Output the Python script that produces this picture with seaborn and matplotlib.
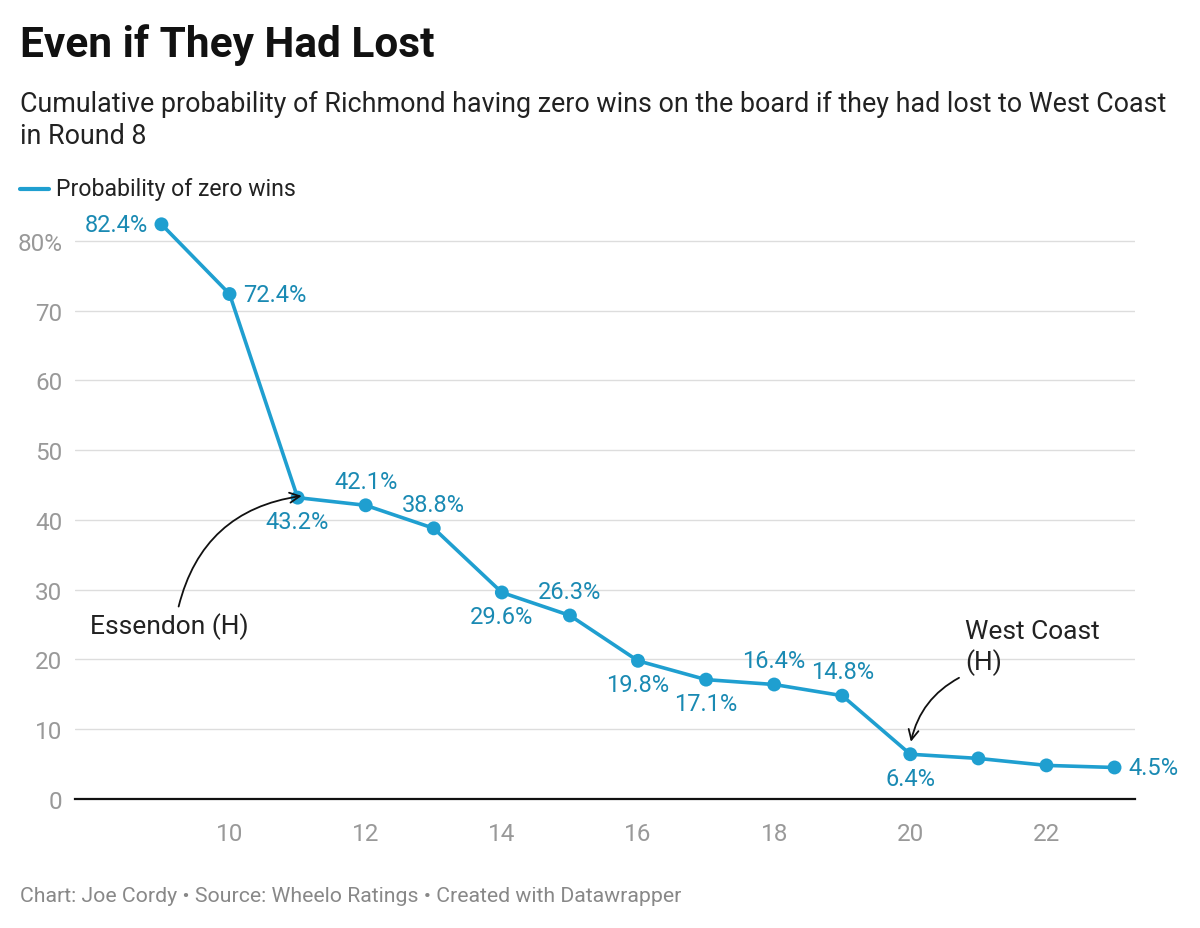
import matplotlib
matplotlib.use("Agg")
import matplotlib.pyplot as plt
import seaborn as sns
import pandas as pd

# ============================================================
# Données
# ============================================================
rounds = [9, 10, 11, 12, 13, 14, 15, 16, 17, 18, 19, 20, 21, 22, 23]
prob_zero = [82.4, 72.4, 43.2, 42.1, 38.8, 29.6, 26.3, 19.8, 17.1, 16.4, 14.8, 6.4, 5.8, 4.8, 4.5]
# position of each value label: l/r/a/b (None = no label)
label_pos = ['l', 'r', 'b', 'a', 'a', 'b', 'a', 'b', 'b', 'a', 'a', 'b', None, None, 'r']

x_ticks = [10, 12, 14, 16, 18, 20, 22]
y_ticks = [0, 10, 20, 30, 40, 50, 60, 70, 80]
y_tick_labels = ['0', '10', '20', '30', '40', '50', '60', '70', '80%']

title = "Even if They Had Lost"
subtitle = ("Cumulative probability of Richmond having zero wins on the board if they had lost to West Coast\n"
            "in Round 8")
legend_label = "Probability of zero wins"
footer = "Chart: Joe Cordy \u2022 Source: Wheelo Ratings \u2022 Created with Datawrapper"

df = pd.DataFrame({'round': rounds, 'prob': prob_zero})

LINE = '#1f9fd0'
LABEL = '#1a8ab3'
GREY = '#999999'

sns.set_theme(style='white')
plt.rcParams['font.family'] = ['Roboto', 'DejaVu Sans']

fig = plt.figure(figsize=(12, 9.29), dpi=100)
ax = fig.add_axes([0.0625, 0.139, 0.8833, 0.638])

sns.lineplot(data=df, x='round', y='prob', ax=ax, color=LINE, linewidth=2.6)
sns.scatterplot(data=df, x='round', y='prob', ax=ax, color=LINE, s=100,
                edgecolor='none', zorder=3)

ax.set_xlim(7.73, 23.3)
ax.set_ylim(0, 85)
ax.set_xticks(x_ticks)
ax.set_xticklabels([str(t) for t in x_ticks])
ax.set_yticks(y_ticks)
ax.set_yticklabels(y_tick_labels)
ax.set_xlabel('')
ax.set_ylabel('')
ax.tick_params(axis='both', length=0, labelsize=17.5, colors=GREY)
ax.tick_params(axis='x', pad=17)
ax.tick_params(axis='y', pad=9)

ax.grid(axis='y', color='#dddddd', linewidth=1)
ax.grid(axis='x', visible=False)
for s in ['top', 'right', 'left']:
    ax.spines[s].set_visible(False)
ax.spines['bottom'].set_color('#111111')
ax.spines['bottom'].set_linewidth(1.6)
ax.spines['bottom'].set_zorder(4)

# étiquettes de valeurs
offsets = {'l': (-10, 0, 'right', 'center'), 'r': (10, 0, 'left', 'center'),
           'a': (0, 9, 'center', 'bottom'), 'b': (0, -9, 'center', 'top')}
for r, v, p in zip(rounds, prob_zero, label_pos):
    if p is None:
        continue
    dx, dy, ha, va = offsets[p]
    ax.annotate(f"{v:.1f}%", (r, v), xytext=(dx, dy), textcoords='offset points',
                ha=ha, va=va, fontsize=17, color=LABEL)

# annotations
ax.annotate("Essendon (H)", xy=(11.1, 43.5), xytext=(7.95, 24.8),
            fontsize=19, color='#222222', ha='left', va='center',
            arrowprops=dict(arrowstyle='->', color='#111111', lw=1.3,
                            connectionstyle='arc3,rad=-0.35',
                            shrinkA=2, shrinkB=2, mutation_scale=18,
                            relpos=(0.55, 1.0)))
ax.annotate("West Coast\n(H)", xy=(20.0, 7.8), xytext=(20.8, 21.8),
            fontsize=19, color='#222222', ha='left', va='center', linespacing=1.25,
            arrowprops=dict(arrowstyle='->', color='#111111', lw=1.3,
                            connectionstyle='arc3,rad=0.25',
                            shrinkA=2, shrinkB=2, mutation_scale=18,
                            relpos=(0.0, 0.0)))

# titre, sous-titre, légende, pied
fig.text(0.017, 0.951, title, fontsize=30.5, fontweight='bold', color='#111111',
         ha='left', va='center')
fig.text(0.017, 0.870, subtitle, fontsize=19.4, color='#222222', ha='left',
         va='center', linespacing=1.25)
fig.add_artist(plt.Line2D([0.017, 0.041], [0.796, 0.796], color=LINE, lw=3,
                          transform=fig.transFigure))
fig.text(0.047, 0.796, legend_label, fontsize=16.6, color='#222222', ha='left',
         va='center')
fig.text(0.017, 0.035, footer, fontsize=15.3, color='#888888', ha='left',
         va='center')

fig.savefig('out.png', dpi=100)
